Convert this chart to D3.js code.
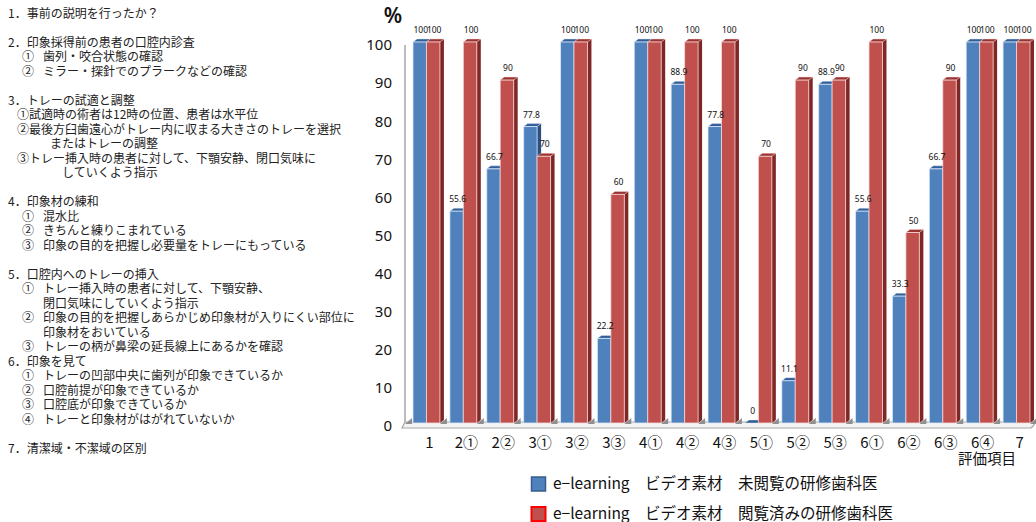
<!DOCTYPE html>
<html>
<head>
<meta charset="utf-8">
<script src="https://cdn.jsdelivr.net/npm/d3@7"></script>
<style>
  html, body { margin: 0; padding: 0; background: #fff; }
  svg { display: block; }
</style>
</head>
<body>
<svg id="chart" width="1036" height="522"></svg>
<script>
// Evaluation items (x categories)
const categories = ["1", "2①", "2②", "3①", "3②", "3③", "4①", "4②", "4③",
                    "5①", "5②", "5③", "6①", "6②", "6③", "6④", "7"];
// Percentage of residents meeting each item
const notViewed = [100, 55.6, 66.7, 77.8, 100, 22.2, 100, 88.9, 77.8,
                   0, 11.1, 88.9, 55.6, 33.3, 66.7, 100, 100];
const viewed    = [100, 100, 90, 70, 100, 60, 100, 100, 100,
                   70, 90, 90, 100, 50, 90, 100, 100];
const yTicks = [0, 10, 20, 30, 40, 50, 60, 70, 80, 90, 100];
const seriesLabels = [
  "e−learning　ビデオ素材　未閲覧の研修歯科医",
  "e−learning　ビデオ素材　閲覧済みの研修歯科医"
];
const yUnit = "%";
const xTitle = "評価項目";

// Checklist shown beside the chart
const outline = [
  { k: "head", t: "1．事前の説明を行ったか？" },
  { k: "blank" },
  { k: "head", t: "2．印象採得前の患者の口腔内診査" },
  { k: "item", m: "①", t: "歯列・咬合状態の確認" },
  { k: "item", m: "②", t: "ミラー・探針でのプラークなどの確認" },
  { k: "blank" },
  { k: "head", t: "3．トレーの試適と調整" },
  { k: "tight", t: "①試適時の術者は12時の位置、患者は水平位" },
  { k: "tight", t: "②最後方臼歯遠心がトレー内に収まる大きさのトレーを選択" },
  { k: "wrap1", t: "またはトレーの調整" },
  { k: "tight", t: "③トレー挿入時の患者に対して、下顎安静、閉口気味に" },
  { k: "wrap2", t: "していくよう指示" },
  { k: "blank" },
  { k: "head", t: "4．印象材の練和" },
  { k: "item", m: "①", t: "混水比" },
  { k: "item", m: "②", t: "きちんと練りこまれている" },
  { k: "item", m: "③", t: "印象の目的を把握し必要量をトレーにもっている" },
  { k: "blank" },
  { k: "head", t: "5．口腔内へのトレーの挿入" },
  { k: "item", m: "①", t: "トレー挿入時の患者に対して、下顎安静、" },
  { k: "cont", t: "閉口気味にしていくよう指示" },
  { k: "item", m: "②", t: "印象の目的を把握しあらかじめ印象材が入りにくい部位に" },
  { k: "cont", t: "印象材をおいている" },
  { k: "item", m: "③", t: "トレーの柄が鼻梁の延長線上にあるかを確認" },
  { k: "head", t: "6．印象を見て" },
  { k: "item", m: "①", t: "トレーの凹部中央に歯列が印象できているか" },
  { k: "item", m: "②", t: "口腔前提が印象できているか" },
  { k: "item", m: "③", t: "口腔底が印象できているか" },
  { k: "item", m: "④", t: "トレーと印象材がはがれていないか" },
  { k: "blank" },
  { k: "head", t: "7．清潔域・不潔域の区別" }
];

const svg = d3.select("#chart");
const JP = "'Noto Sans CJK JP', 'Noto Sans', sans-serif";
const LATIN = "'Noto Sans', 'Liberation Sans', sans-serif";

// ---------- checklist text ----------
const textX = { head: 8, tight: 17, wrap1: 50, wrap2: 62, cont: 43 };
const lineGap = 14.5;
const listG = svg.append("g")
  .attr("font-family", JP)
  .attr("font-size", 12)
  .attr("fill", "#222");
outline.forEach((d, i) => {
  if (d.k === "blank") return;
  const yy = 17.5 + i * lineGap;
  if (d.k === "item") {
    listG.append("text").attr("x", 22).attr("y", yy).text(d.m);
    listG.append("text").attr("x", 43).attr("y", yy).text(d.t);
  } else {
    listG.append("text").attr("x", textX[d.k]).attr("y", yy).text(d.t);
  }
});

// ---------- scales ----------
const series = [
  { values: notViewed, front: "#4F81BD", side: "#2C5082", top: "#2F5E98", stroke: "rgba(225,235,250,0.75)" },
  { values: viewed,    front: "#C0504D", side: "#7E2725", top: "#9A3431", stroke: "rgba(250,220,220,0.75)" }
];
const x0 = d3.scaleBand().domain(categories).range([413, 1030]).paddingInner(0.27).paddingOuter(0);
const x1 = d3.scaleBand().domain(d3.range(series.length)).range([0, x0.bandwidth()]);
const y = d3.scaleLinear().domain([0, 100]).range([423, 42]);
const dx = 4, dy = 3;
const base = y(0);

// ---------- floor and wall ----------
const floor = svg.append("g");
floor.append("path")
  .attr("d", `M405,${base - 1} L1034,${base - 1} Q1036,${base + 1} 1031,${base + 5} L402,${base + 5} Z`)
  .attr("fill", "#f4f4f4")
  .attr("stroke", "#a6a6a6")
  .attr("stroke-width", 1.2);
floor.append("line")
  .attr("x1", 405).attr("x2", 405)
  .attr("y1", y(100) + 3).attr("y2", base - 1)
  .attr("stroke", "#a6a6a6").attr("stroke-width", 1.5);

// depth shadows between groups on the floor
const shadowXs = [x0(categories[0]) - 8].concat(categories.map(c => x0(c) + x0.bandwidth()));
floor.selectAll("path.shadow")
  .data(shadowXs)
  .join("path")
  .attr("class", "shadow")
  .attr("d", sx => `M${sx},${base + 1} L${sx + 7},${base + 1} L${sx + 7},${base - 5} Z`)
  .attr("fill", "#8f8f8f");

// ---------- y axis ----------
const yAxis = svg.append("g")
  .attr("transform", "translate(395,3)")
  .call(d3.axisLeft(y).tickValues(yTicks).tickSize(0).tickPadding(3).tickFormat(d3.format("d")));
yAxis.select(".domain").remove();
yAxis.selectAll("text")
  .attr("font-family", LATIN)
  .attr("font-size", 15)
  .attr("fill", "#111");

svg.append("text")
  .attr("x", 393).attr("y", 23)
  .attr("text-anchor", "middle")
  .attr("font-family", LATIN)
  .attr("font-size", 21)
  .attr("font-weight", 600)
  .attr("fill", "#111")
  .text(yUnit);

// ---------- 3D bars ----------
const barsG = svg.append("g");
const labelG = svg.append("g")
  .attr("font-family", LATIN)
  .attr("font-size", 8.5)
  .attr("fill", "#111")
  .attr("text-anchor", "middle");
categories.forEach((cat, ci) => {
  series.forEach((s, si) => {
    const v = s.values[ci];
    const bx = x0(cat) + x1(si);
    const w = x1.bandwidth();
    const top = y(v);
    const g = barsG.append("g");
    // right side face
    g.append("path")
      .attr("d", `M${bx + w},${top} L${bx + w + dx},${top - dy} L${bx + w + dx},${base - dy} L${bx + w},${base} Z`)
      .attr("fill", s.side);
    // top face
    g.append("path")
      .attr("d", `M${bx},${top} L${bx + dx},${top - dy} L${bx + w + dx},${top - dy} L${bx + w},${top} Z`)
      .attr("fill", s.top)
      .attr("stroke", s.stroke)
      .attr("stroke-width", 0.6);
    // front face
    if (base - top > 0) {
      g.append("rect")
        .attr("x", bx).attr("y", top)
        .attr("width", w).attr("height", base - top)
        .attr("fill", s.front)
        .attr("stroke", s.stroke)
        .attr("stroke-width", 1);
    }
    // value label, kept above all bars
    labelG.append("text")
      .attr("x", bx + w / 2 + 1)
      .attr("y", top - 9)
      .text(d3.format("~")(v));
  });
});

// ---------- x axis ----------
const xAxis = svg.append("g")
  .attr("transform", `translate(3,${base + 12})`)
  .call(d3.axisBottom(x0).tickSize(0).tickPadding(2));
xAxis.select(".domain").remove();
xAxis.selectAll("text")
  .attr("font-family", JP)
  .attr("font-size", 15)
  .attr("fill", "#111");

svg.append("text")
  .attr("x", 987).attr("y", 464)
  .attr("text-anchor", "middle")
  .attr("font-family", JP)
  .attr("font-size", 14.5)
  .attr("fill", "#111")
  .text(xTitle);

// ---------- legend ----------
const legend = svg.append("g");
const legendStroke = ["#385D8A", "#FF0000"];
seriesLabels.forEach((label, i) => {
  const ly = 477 + i * 30;
  legend.append("rect")
    .attr("x", 531.5).attr("y", ly)
    .attr("width", 14).attr("height", 14)
    .attr("fill", series[i].front)
    .attr("stroke", legendStroke[i])
    .attr("stroke-width", i === 0 ? 1.5 : 2);
  legend.append("text")
    .attr("x", 553).attr("y", ly + 12)
    .attr("font-family", JP)
    .attr("font-size", 15.5)
    .attr("fill", "#111")
    .text(label);
});
</script>
</body>
</html>
